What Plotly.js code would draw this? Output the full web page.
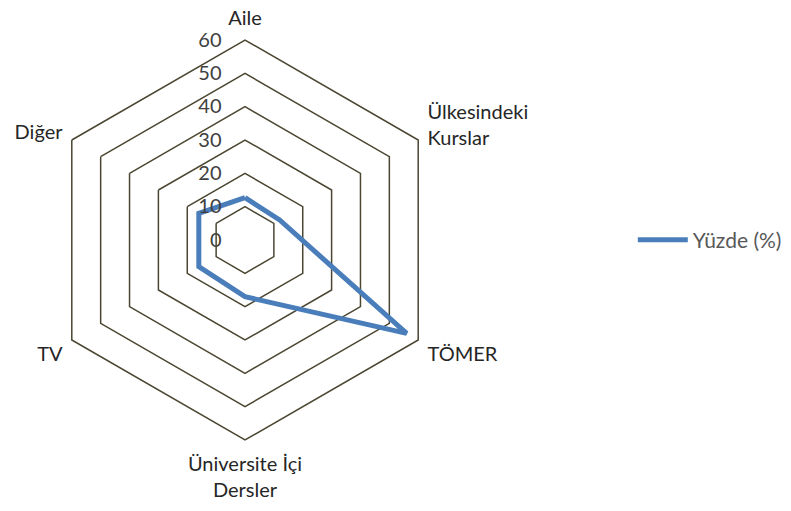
<!DOCTYPE html>
<html><head><meta charset="utf-8">
<script src="https://cdn.plot.ly/plotly-3.0.1.min.js"></script>
<style>html,body{margin:0;padding:0;background:#fff}#chart{width:791px;height:511px}</style>
</head><body><div id="chart"></div>
<script>
var categories = ["Aile", "Ülkesindeki<br>Kurslar", "TÖMER", "Üniversite İçi<br>Dersler", "TV", "Diğer"];
var values = [12.7, 12, 56, 17, 16, 16];
var seriesName = "Yüzde (%)";
var radialTicks = [0, 10, 20, 30, 40, 50, 60];

var trace = {
  type: "scatterpolar",
  r: values.concat([values[0]]),
  theta: categories.concat([categories[0]]),
  mode: "lines",
  name: seriesName,
  line: {color: "#4a7ebb", width: 5, shape: "linear"},
  hoverinfo: "skip"
};
var font = "Lato, 'Open Sans', 'Noto Sans', sans-serif";
var layout = {
  width: 791, height: 511,
  margin: {l: 0, r: 0, t: 0, b: 0},
  paper_bgcolor: "#fff", plot_bgcolor: "#fff",
  font: {family: font, size: 20, color: "#404040"},
  showlegend: true,
  legend: {x: 0.8, y: 0.53, xanchor: "left", yanchor: "middle", font: {size: 21, color: "#595959", family: font}, itemwidth: 50},
  polar: {
    domain: {x: [45/791, 445/791], y: [71/511, 471/511]},
    gridshape: "linear",
    bgcolor: "#fff",
    angularaxis: {
      rotation: 90, direction: "clockwise",
      showline: true, linecolor: "#4a4631", linewidth: 1.5,
      showgrid: false, ticks: "outside", ticklen: 6, tickcolor: "rgba(0,0,0,0)",
      tickfont: {size: 20, color: "#262626", family: font}
    },
    radialaxis: {
      range: [0, 60], angle: 90, tickangle: 90,
      tickvals: radialTicks, ticktext: radialTicks.map(String),
      showline: false, showgrid: true, gridcolor: "#4a4631", gridwidth: 1.5,
      ticks: "outside", ticklen: 16, tickcolor: "rgba(0,0,0,0)",
      side: "counterclockwise",
      tickfont: {size: 20, color: "#404040", family: font}
    }
  }
};
Plotly.newPlot("chart", [trace], layout, {displayModeBar: false, staticPlot: true});
</script></body></html>
